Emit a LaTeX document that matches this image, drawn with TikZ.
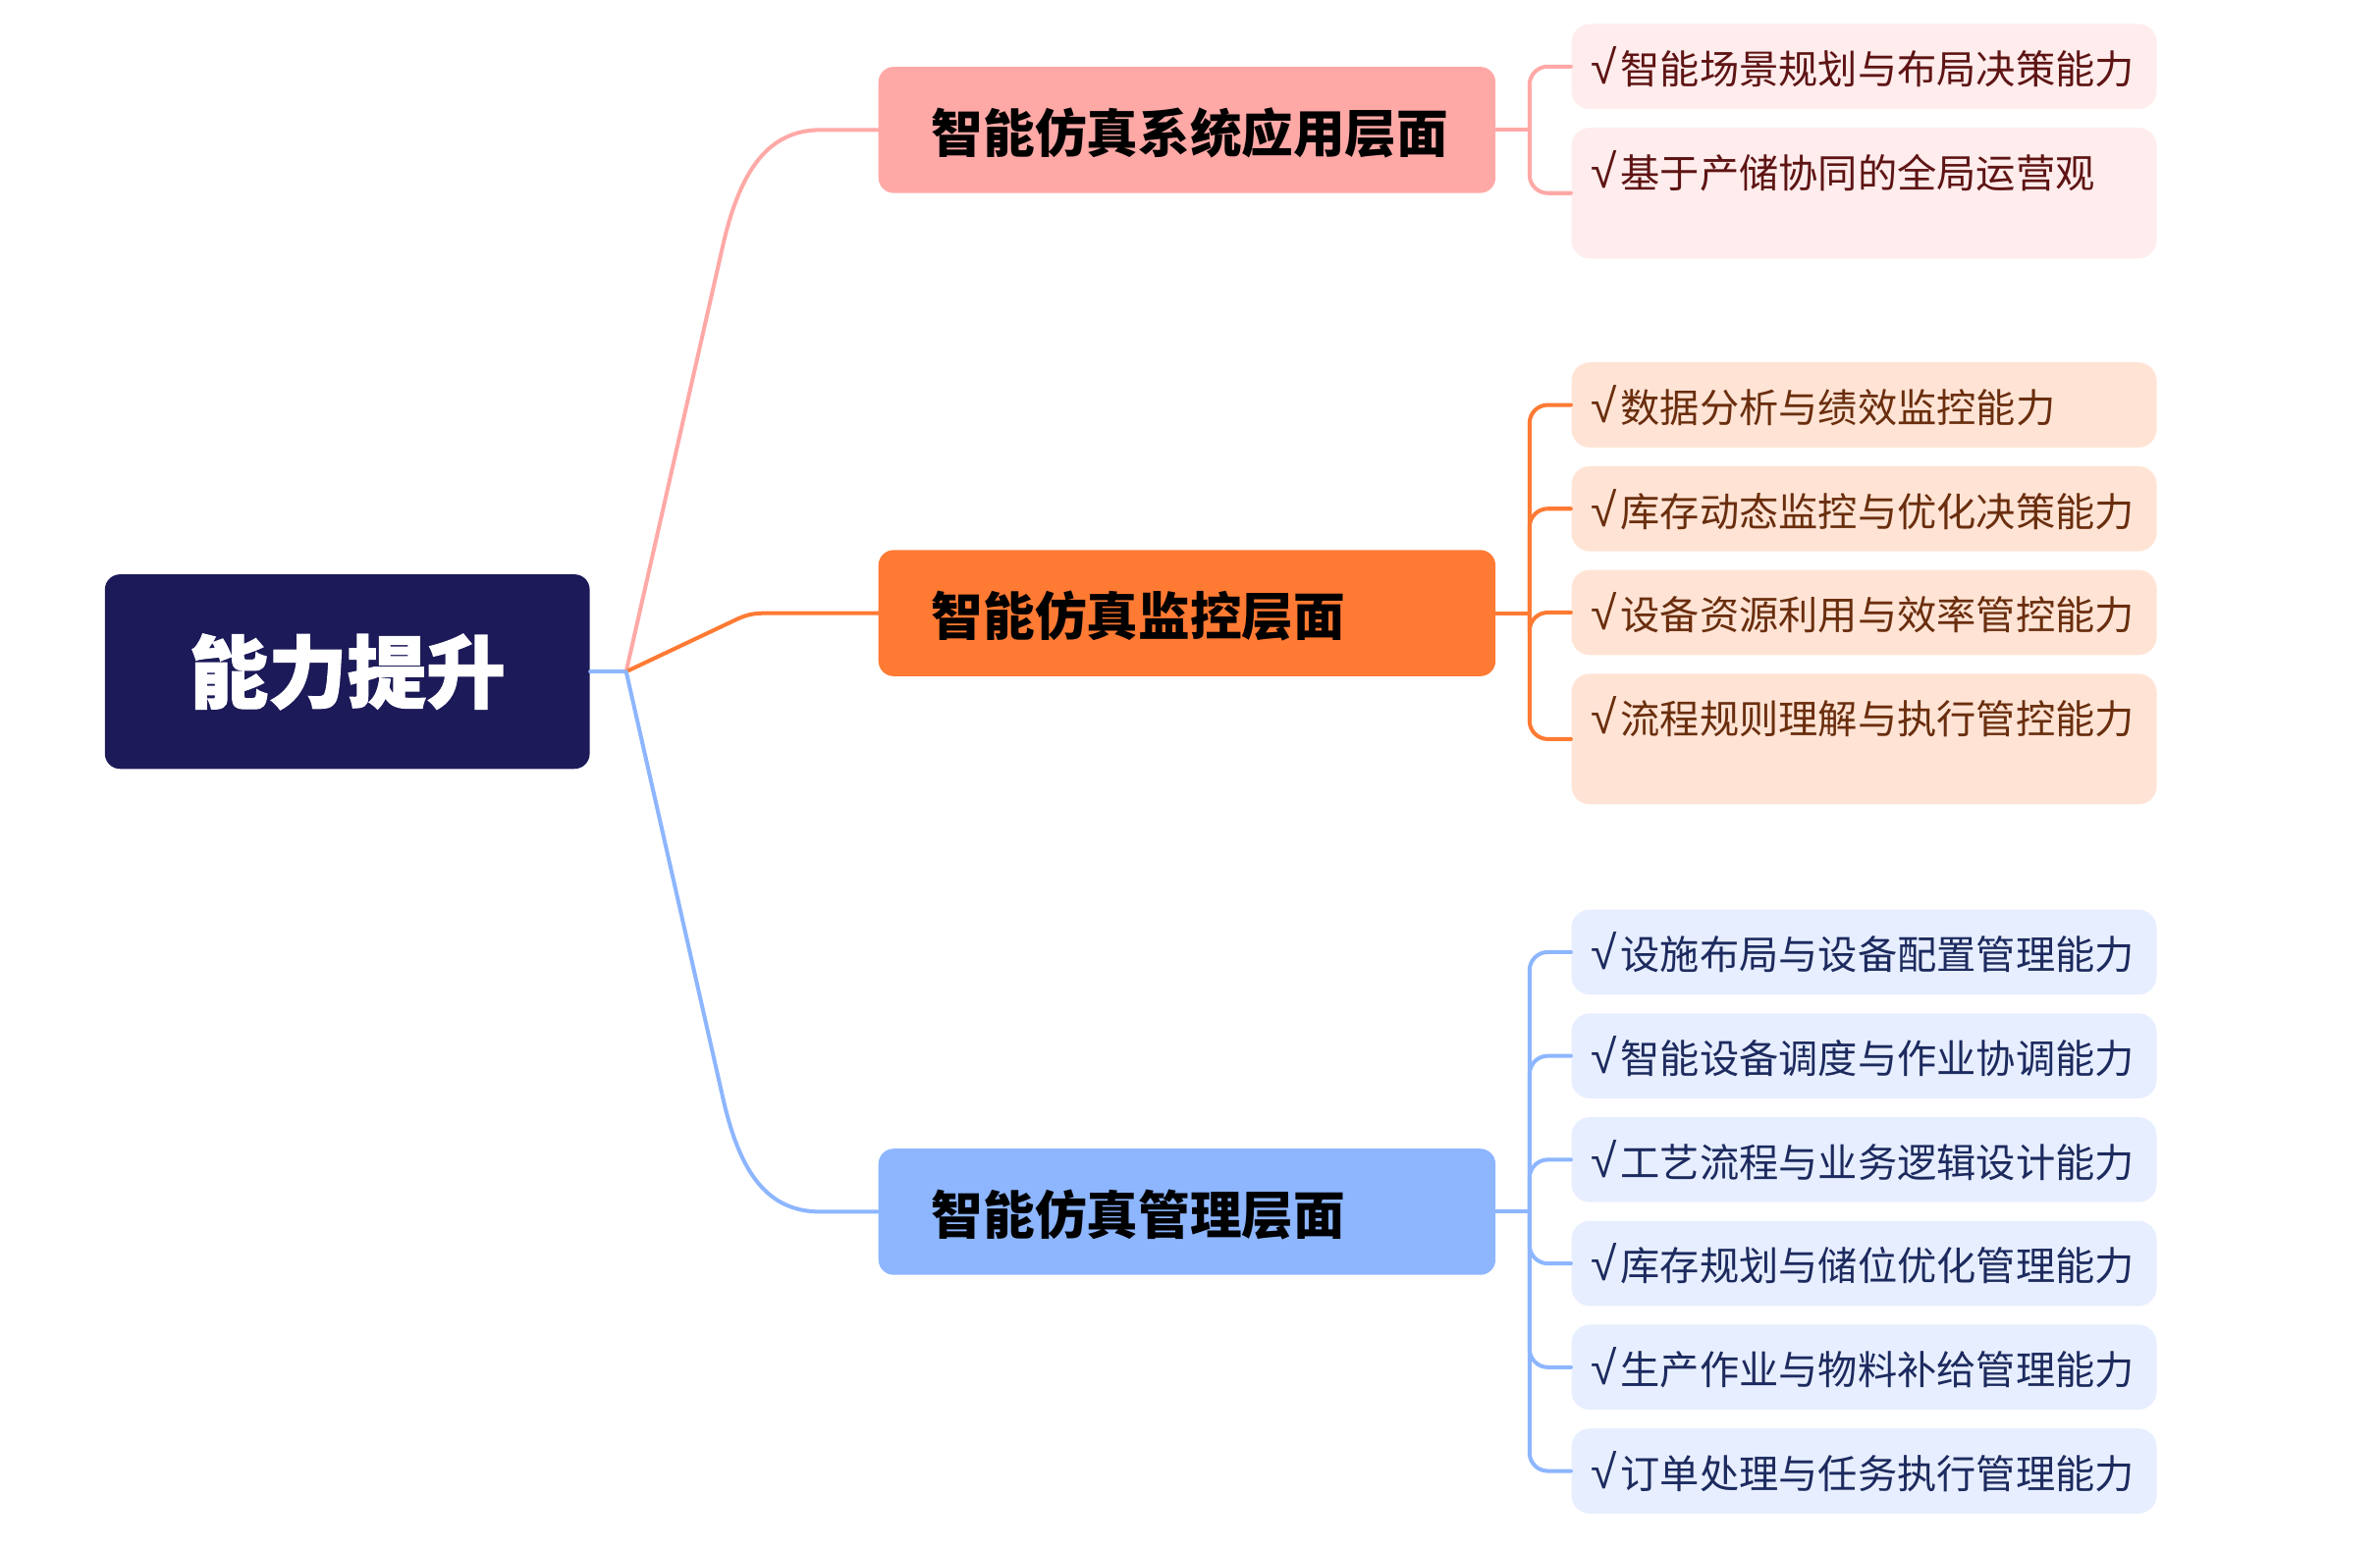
\documentclass[tikz,border=0pt]{standalone}
\usepackage{fontspec}
\setmainfont{Noto Sans CJK SC}
\newfontfamily\heavyfont{Noto Sans CJK SC}[BoldFeatures={FakeBold=1.6}]
\newfontfamily\tickfont{Liberation Sans}
\newcommand{\tick}{{\tickfont\fontsize{15.5pt}{15pt}\selectfont √}\hspace{1.2pt}}
\usetikzlibrary{positioning}

\definecolor{rootc}{HTML}{1C1A58}
\definecolor{pinkc}{HTML}{FFA9A7}
\definecolor{orangec}{HTML}{FF7A33}
\definecolor{bluec}{HTML}{8DB6FF}
\definecolor{pinkleaf}{HTML}{FFECEC}
\definecolor{orangeleaf}{HTML}{FFE4D5}
\definecolor{blueleaf}{HTML}{E7EEFF}
\definecolor{pinktext}{HTML}{5E1414}
\definecolor{orangetext}{HTML}{6A2E0E}
\definecolor{bluetext}{HTML}{1C2A5E}

\begin{document}
\begin{tikzpicture}[
      x=0.5pt, y=-0.5pt,
      node distance=5.75pt,
      every node/.style={
        inner ysep=0pt
      },
      rootbox/.style={fill=rootc, text=white, rounded corners=5pt,
        minimum width=159.5pt, minimum height=64pt,
        text height=41.9pt, text depth=22.1pt,
        font=\fontsize{26pt}{30pt}\selectfont\heavyfont\bfseries},
      branch/.style={rounded corners=5pt, minimum width=203pt,
        text width=168pt, inner xsep=17.5pt, align=left,
        text height=28.1pt, text depth=13.4pt,
        font=\fontsize{17pt}{20pt}\selectfont\bfseries},
      leaf/.style={rounded corners=6pt, text width=179.5pt,
        inner xsep=6.5pt, align=left,
        text height=19.75pt, text depth=8.25pt,
        font=\fontsize{13pt}{15pt}\selectfont},
      tallleaf/.style={leaf, text depth=23.25pt},
      link/.style={line width=1.3pt, line cap=round}
    ]
    \useasboundingbox (0,0) rectangle (1566,1019);

    % Root and branches
    \node (n0) [rootbox] at (228.5,442) {能力提升};
    \node (n1) [branch, fill=pinkc] at (781,85.5) {智能仿真系统应用层面};
    \node (n2) [branch, fill=orangec] at (781,403.5) {智能仿真监控层面};
    \node (n3) [branch, fill=bluec] at (781,797.5) {智能仿真管理层面};

    % Leaves of branch 1
    \node (n11) [leaf, fill=pinkleaf, text=pinktext] at (1226.5,43.8) {\tick 智能场景规划与布局决策能力};
    \node (n12) [tallleaf, fill=pinkleaf, text=pinktext, below=of n11] {\tick 基于产储协同的全局运营观};

    % Leaves of branch 2
    \node (n21) [leaf, fill=orangeleaf, text=orangetext] at (1226.5,266.5) {\tick 数据分析与绩效监控能力};
    \node (n22) [leaf, fill=orangeleaf, text=orangetext, below=of n21] {\tick 库存动态监控与优化决策能力};
    \node (n23) [leaf, fill=orangeleaf, text=orangetext, below=of n22] {\tick 设备资源利用与效率管控能力};
    \node (n24) [tallleaf, fill=orangeleaf, text=orangetext, below=of n23] {\tick 流程规则理解与执行管控能力};

    % Leaves of branch 3
    \node (n31) [leaf, fill=blueleaf, text=bluetext] at (1226.5,626.6) {\tick 设施布局与设备配置管理能力};
    \node (n32) [leaf, fill=blueleaf, text=bluetext, below=of n31] {\tick 智能设备调度与作业协调能力};
    \node (n33) [leaf, fill=blueleaf, text=bluetext, below=of n32] {\tick 工艺流程与业务逻辑设计能力};
    \node (n34) [leaf, fill=blueleaf, text=bluetext, below=of n33] {\tick 库存规划与储位优化管理能力};
    \node (n35) [leaf, fill=blueleaf, text=bluetext, below=of n34] {\tick 生产作业与物料补给管理能力};
    \node (n36) [leaf, fill=blueleaf, text=bluetext, below=of n35] {\tick 订单处理与任务执行管理能力};

    % Root to branches
    \coordinate (hub) at (412,442);
    \draw[link, bluec] (n0.east) -- (hub);
    \draw[link, pinkc] (hub) -- (476,160) .. controls (487,113) and (505,85.5) .. (540,85.5) -- (n1.west);
    \draw[link, orangec] (hub) -- (486,407) .. controls (493,404) and (497,403.5) .. (506,403.5) -- (n2.west);
    \draw[link, bluec] (hub) -- (476,724) .. controls (487,772) and (505,797.5) .. (540,797.5) -- (n3.west);

    % Branches to leaves
    \coordinate (f1) at ([xshift=11pt]n1.east);
    \coordinate (f2) at ([xshift=11pt]n2.east);
    \coordinate (f3) at ([xshift=11pt]n3.east);
    \draw[link, pinkc] (n1.east) -- (f1);
    \draw[link, orangec] (n2.east) -- (f2);
    \draw[link, bluec] (n3.east) -- (f3);
    \foreach \l in {n11,n12}
      \draw[link, pinkc, rounded corners=6pt] (f1) |- (\l.west);
    \foreach \l in {n21,n22,n23,n24}
      \draw[link, orangec, rounded corners=6pt] (f2) |- (\l.west);
    \foreach \l in {n31,n32,n33,n34,n35,n36}
      \draw[link, bluec, rounded corners=6pt] (f3) |- (\l.west);
  \end{tikzpicture}
\end{document}
